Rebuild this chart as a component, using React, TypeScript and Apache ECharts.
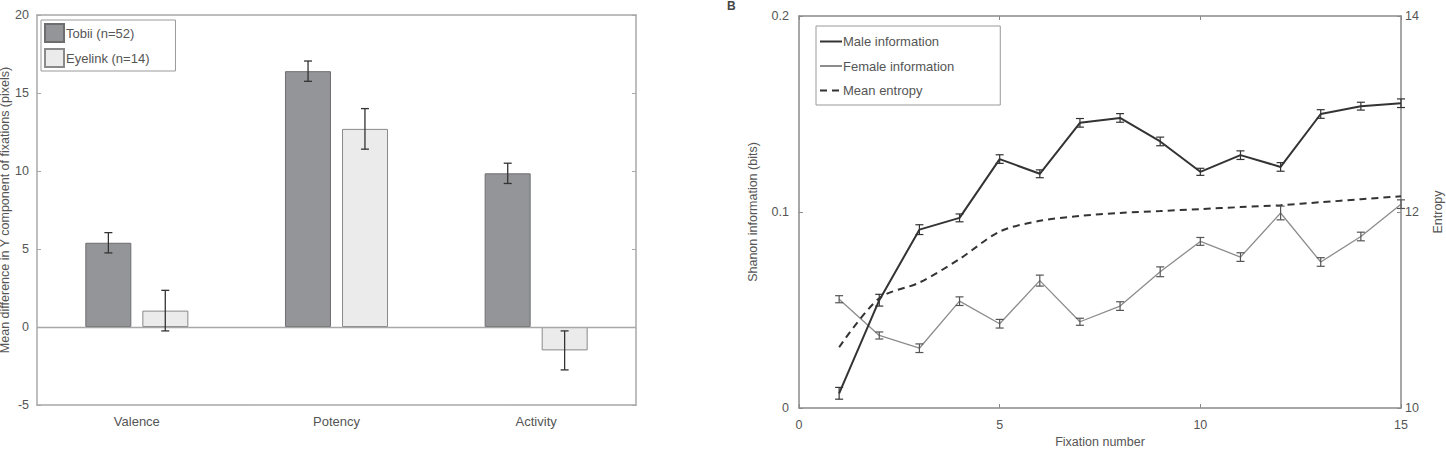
import React, { useEffect, useRef } from "react";
import * as echarts from "echarts";

const barCategories = ["Valence", "Potency", "Activity"];
const tobiiMeans = [5.4, 16.4, 9.85];
const tobiiErr = [0.65, 0.65, 0.65];
const eyelinkMeans = [1.05, 12.7, -1.5];
const eyelinkErr = [1.3, 1.3, 1.25];

const fixationNumbers = [1, 2, 3, 4, 5, 6, 7, 8, 9, 10, 11, 12, 13, 14, 15];
const maleInfo = [0.0075, 0.055, 0.091, 0.097, 0.127, 0.1195, 0.1455, 0.148, 0.136, 0.1205, 0.129, 0.123, 0.15, 0.154, 0.1555];
const maleErr = [0.003, 0.003, 0.0025, 0.002, 0.0022, 0.002, 0.0022, 0.0022, 0.0022, 0.0018, 0.0022, 0.0022, 0.0022, 0.002, 0.0022];
const femaleInfo = [0.0555, 0.037, 0.0305, 0.0545, 0.043, 0.065, 0.044, 0.052, 0.0695, 0.085, 0.077, 0.0995, 0.0745, 0.0875, 0.104];
const femaleErr = [0.0018, 0.0018, 0.0022, 0.0022, 0.0022, 0.0028, 0.0018, 0.0022, 0.0025, 0.002, 0.0022, 0.0035, 0.0022, 0.0022, 0.0022];
const meanEntropy = [10.62, 11.12, 11.28, 11.52, 11.8, 11.91, 11.96, 11.99, 12.01, 12.03, 12.05, 12.07, 12.1, 12.13, 12.16];

const FONT = "Liberation Sans, Arial, sans-serif";
const TXT = "#555";

function barErrorRender(side: number) {
  return (params: any, api: any) => {
    const idx = api.value(0);
    const mean = api.value(1);
    const err = api.value(2);
    const band = api.size([1, 0])[0];
    const off = side * band * 0.1425;
    const top = api.coord([idx, mean + err]);
    const bot = api.coord([idx, mean - err]);
    const x = top[0] + off;
    const cap = 4;
    const style = { stroke: "#333", lineWidth: 1.3 };
    return {
      type: "group",
      children: [
        { type: "line", shape: { x1: x, y1: top[1], x2: x, y2: bot[1] }, style },
        { type: "line", shape: { x1: x - cap, y1: top[1], x2: x + cap, y2: top[1] }, style },
        { type: "line", shape: { x1: x - cap, y1: bot[1], x2: x + cap, y2: bot[1] }, style },
      ],
    };
  };
}

function lineErrorRender(color: string) {
  return (params: any, api: any) => {
    const xv = api.value(0);
    const yv = api.value(1);
    const err = api.value(2);
    const top = api.coord([xv, yv + err]);
    const bot = api.coord([xv, yv - err]);
    const x = top[0];
    const cap = 4;
    const style = { stroke: color, lineWidth: 1.2 };
    return {
      type: "group",
      children: [
        { type: "line", shape: { x1: x, y1: top[1], x2: x, y2: bot[1] }, style },
        { type: "line", shape: { x1: x - cap, y1: top[1], x2: x + cap, y2: top[1] }, style },
        { type: "line", shape: { x1: x - cap, y1: bot[1], x2: x + cap, y2: bot[1] }, style },
      ],
    };
  };
}

export default function App() {
  const ref = useRef<HTMLDivElement>(null);
  useEffect(() => {
    document.body.style.margin = "0";
    const chart = echarts.init(ref.current!, undefined, { renderer: "svg" });
    const leftBox = "#a8a8a8";
    const rightBox = "#8a8a8a";
    const tickLabel = { color: TXT, fontSize: 12.5, fontFamily: FONT };
    const option: any = {
      animation: false,
      backgroundColor: "#fff",
      textStyle: { fontFamily: FONT },
      grid: [
        { left: 37, top: 15, width: 599, height: 390, outerBoundsMode: "none", containLabel: false },
        { left: 799, top: 16, width: 602, height: 392, outerBoundsMode: "none", containLabel: false },
      ],
      legend: [
        {
          data: ["Tobii (n=52)", "Eyelink (n=14)"],
          icon: "rect",
          orient: "vertical",
          left: 41,
          top: 20,
          padding: [3, 26, 3, 3],
          itemWidth: 19,
          itemHeight: 18,
          itemGap: 5,
          borderColor: "#999",
          borderWidth: 1,
          backgroundColor: "#fff",
          textStyle: { color: "#555", fontSize: 13, fontFamily: FONT, padding: [0, 0, 0, -3] },
        },
        {
          data: ["Male information", "Female information", "Mean entropy"],
          orient: "vertical",
          left: 816,
          top: 26,
          padding: [9, 46, 8, 3],
          itemWidth: 22,
          itemHeight: 14,
          itemGap: 11.5,
          borderColor: "#999",
          borderWidth: 1,
          backgroundColor: "#fff",
          itemStyle: { opacity: 0 },
          textStyle: { color: "#555", fontSize: 13, fontFamily: FONT, padding: [0, 0, 0, -4] },
        },
      ],
      xAxis: [
        {
          type: "category",
          gridIndex: 0,
          data: barCategories,
          position: "bottom",
          axisLine: { onZero: false, lineStyle: { color: leftBox, width: 1.5 } },
          axisTick: { alignWithLabel: true, inside: true, length: 4, lineStyle: { color: leftBox } },
          axisLabel: { ...tickLabel, fontSize: 13, margin: 10 },
        },
        {
          type: "category",
          gridIndex: 0,
          data: barCategories,
          position: "top",
          axisLine: { onZero: false, lineStyle: { color: leftBox, width: 1.5 } },
          axisTick: { alignWithLabel: true, inside: true, length: 4, lineStyle: { color: leftBox } },
          axisLabel: { show: false },
        },
        {
          type: "value",
          gridIndex: 1,
          min: 0,
          max: 15,
          interval: 5,
          position: "bottom",
          name: "Fixation number",
          nameLocation: "middle",
          nameGap: 27,
          nameTextStyle: { color: TXT, fontSize: 12.5, fontFamily: FONT },
          axisLine: { onZero: false, lineStyle: { color: rightBox, width: 1.5 } },
          axisTick: { inside: true, length: 4, lineStyle: { color: rightBox } },
          axisLabel: { ...tickLabel, margin: 10 },
          splitLine: { show: false },
        },
        {
          type: "value",
          gridIndex: 1,
          min: 0,
          max: 15,
          interval: 5,
          position: "top",
          axisLine: { onZero: false, lineStyle: { color: rightBox, width: 1.5 } },
          axisTick: { inside: true, length: 4, lineStyle: { color: rightBox } },
          axisLabel: { show: false },
          splitLine: { show: false },
        },
      ],
      yAxis: [
        {
          type: "value",
          gridIndex: 0,
          min: -5,
          max: 20,
          interval: 5,
          position: "left",
          name: "Mean difference in Y component of fixations (pixels)",
          nameLocation: "middle",
          nameGap: 20,
          nameTextStyle: { color: TXT, fontSize: 12.5, fontFamily: FONT },
          axisLine: { show: true, onZero: false, lineStyle: { color: leftBox, width: 1.5 } },
          axisTick: { show: true, inside: true, length: 4, lineStyle: { color: leftBox } },
          axisLabel: { ...tickLabel, margin: 8 },
          splitLine: { show: false },
        },
        {
          type: "value",
          gridIndex: 0,
          min: -5,
          max: 20,
          interval: 5,
          position: "right",
          axisLine: { show: true, onZero: false, lineStyle: { color: leftBox, width: 1.5 } },
          axisTick: { show: true, inside: true, length: 4, lineStyle: { color: leftBox } },
          axisLabel: { show: false },
          splitLine: { show: false },
        },
        {
          type: "value",
          gridIndex: 1,
          min: 0,
          max: 0.2,
          interval: 0.1,
          position: "left",
          name: "Shanon information (bits)",
          nameLocation: "middle",
          nameGap: 40,
          nameTextStyle: { color: TXT, fontSize: 12.5, fontFamily: FONT },
          axisLine: { show: true, onZero: false, lineStyle: { color: rightBox, width: 1.5 } },
          axisTick: { show: true, inside: true, length: 4, lineStyle: { color: rightBox } },
          axisLabel: { ...tickLabel, margin: 10 },
          splitLine: { show: false },
        },
        {
          type: "value",
          gridIndex: 1,
          min: 10,
          max: 14,
          interval: 2,
          position: "right",
          name: "Entropy",
          nameLocation: "middle",
          nameGap: 30,
          nameTextStyle: { color: TXT, fontSize: 12.5, fontFamily: FONT },
          axisLine: { show: true, onZero: false, lineStyle: { color: rightBox, width: 1.5 } },
          axisTick: { show: true, inside: true, length: 4, lineStyle: { color: rightBox } },
          axisLabel: { ...tickLabel, margin: 4 },
          splitLine: { show: false },
        },
      ],
      graphic: [
        {
          type: "text",
          left: 727,
          top: 0,
          style: { text: "B", fontSize: 12, fontWeight: "bold", fill: "#444", fontFamily: FONT },
        },
      ],
      series: [
        {
          name: "Tobii (n=52)",
          type: "bar",
          xAxisIndex: 0,
          yAxisIndex: 0,
          data: tobiiMeans,
          barWidth: 46,
          barGap: "24%",
          itemStyle: { color: "#939598", borderColor: "#6e6e6e", borderWidth: 1 },
          markLine: {
            silent: true,
            symbol: "none",
            label: { show: false },
            lineStyle: { color: leftBox, type: "solid", width: 1.3 },
            data: [{ yAxis: 0 }],
          },
        },
        {
          name: "Eyelink (n=14)",
          type: "bar",
          xAxisIndex: 0,
          yAxisIndex: 0,
          data: eyelinkMeans,
          barWidth: 46,
          barGap: "24%",
          itemStyle: { color: "#ebebeb", borderColor: "#8a8a8a", borderWidth: 1 },
        },
        {
          type: "custom",
          xAxisIndex: 0,
          yAxisIndex: 0,
          renderItem: barErrorRender(-1),
          encode: { x: 0, y: 1 },
          data: tobiiMeans.map((m, i) => [i, m, tobiiErr[i]]),
          z: 5,
        },
        {
          type: "custom",
          xAxisIndex: 0,
          yAxisIndex: 0,
          renderItem: barErrorRender(1),
          encode: { x: 0, y: 1 },
          data: eyelinkMeans.map((m, i) => [i, m, eyelinkErr[i]]),
          z: 5,
        },
        {
          name: "Male information",
          type: "line",
          xAxisIndex: 2,
          yAxisIndex: 2,
          symbol: "none",
          data: fixationNumbers.map((f, i) => [f, maleInfo[i]]),
          lineStyle: { color: "#333", width: 2 },
          itemStyle: { color: "#333" },
          z: 4,
        },
        {
          name: "Female information",
          type: "line",
          xAxisIndex: 2,
          yAxisIndex: 2,
          symbol: "none",
          data: fixationNumbers.map((f, i) => [f, femaleInfo[i]]),
          lineStyle: { color: "#8c8c8c", width: 1.3 },
          itemStyle: { color: "#8c8c8c" },
          z: 3,
        },
        {
          name: "Mean entropy",
          type: "line",
          xAxisIndex: 2,
          yAxisIndex: 3,
          symbol: "none",
          smooth: 0.3,
          data: fixationNumbers.map((f, i) => [f, meanEntropy[i]]),
          lineStyle: { color: "#333", width: 2, type: [7, 5] },
          itemStyle: { color: "#333" },
          z: 3,
        },
        {
          type: "custom",
          xAxisIndex: 2,
          yAxisIndex: 2,
          renderItem: lineErrorRender("#333"),
          encode: { x: 0, y: 1 },
          data: fixationNumbers.map((f, i) => [f, maleInfo[i], maleErr[i]]),
          z: 5,
        },
        {
          type: "custom",
          xAxisIndex: 2,
          yAxisIndex: 2,
          renderItem: lineErrorRender("#555"),
          encode: { x: 0, y: 1 },
          data: fixationNumbers.map((f, i) => [f, femaleInfo[i], femaleErr[i]]),
          z: 5,
        },
      ],
    };
    chart.setOption(option);
    return () => chart.dispose();
  }, []);
  return <div ref={ref} style={{ width: 1446, height: 456 }} />;
}
